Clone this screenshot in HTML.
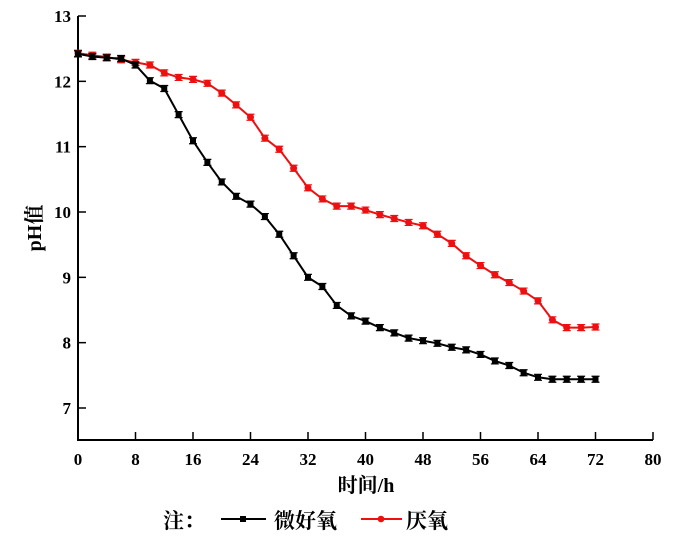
<!DOCTYPE html>
<html><head><meta charset="utf-8"><style>
body{margin:0;background:#fff;width:700px;height:538px;overflow:hidden}
svg text{font-family:"Liberation Serif","Noto Serif CJK SC",serif;font-weight:bold;fill:#000}
</style></head><body>
<svg id="chart" width="700" height="538"></svg>
<script>
const hours=[0,2,4,6,8,10,12,14,16,18,20,22,24,26,28,30,32,34,36,38,40,42,44,46,48,50,52,54,56,58,60,62,64,66,68,70,72];
const microAerobic=[12.42,12.38,12.36,12.35,12.25,12.01,11.89,11.49,11.09,10.76,10.46,10.24,10.12,9.93,9.66,9.33,9.0,8.86,8.57,8.41,8.33,8.23,8.15,8.07,8.03,7.99,7.93,7.89,7.82,7.72,7.65,7.54,7.47,7.44,7.44,7.44,7.44];
const anaerobic=[12.43,12.40,12.37,12.33,12.29,12.25,12.13,12.06,12.03,11.97,11.82,11.64,11.45,11.13,10.96,10.67,10.37,10.2,10.09,10.09,10.03,9.96,9.9,9.84,9.79,9.66,9.52,9.33,9.18,9.04,8.92,8.79,8.64,8.35,8.23,8.23,8.24];
const xTicks=[0,8,16,24,32,40,48,56,64,72,80];
const yTicks=[7,8,9,10,11,12,13];
const NS='http://www.w3.org/2000/svg';
const svg=document.getElementById('chart');
const X=v=>78+v*(653-78)/80;
const Y=v=>408-(v-7)*(408-16)/6;
function mk(t,a,p){const e=document.createElementNS(NS,t);for(const k in a)e.setAttribute(k,a[k]);(p||svg).appendChild(e);return e;}
const ax=mk('g',{});


mk('path',{d:`M78,16 L78,440 L653,440`,fill:'none',stroke:'#000','stroke-width':2},ax);
xTicks.forEach(t=>{
  mk('line',{x1:X(t),x2:X(t),y1:440,y2:432,stroke:'#000','stroke-width':1.5},ax);
  const tx=mk('text',{x:X(t),y:465,'text-anchor':'middle','font-size':17},ax);tx.textContent=t;
  
  
});
yTicks.forEach(t=>{
  mk('line',{x1:78,x2:86,y1:Y(t),y2:Y(t),stroke:'#000','stroke-width':1.5},ax);
  const tx=mk('text',{x:71,y:Y(t)+6,'text-anchor':'end','font-size':17},ax);tx.textContent=t;
  
  
});
const xt=mk('text',{x:366,y:492,'text-anchor':'middle','font-size':20});xt.textContent='时间/h';


const yt=mk('text',{x:0,y:0,'text-anchor':'middle','font-size':20,transform:'translate(41,228) rotate(-90)'});yt.textContent='pH值';


function series(vals,color,name,shape){
  const g=mk('g',{});
  
  
  mk('polyline',{points:hours.map((h,i)=>X(h)+','+Y(vals[i])).join(' '),fill:'none',stroke:color,'stroke-width':2},g);
  hours.forEach((h,i)=>{
    const cx=X(h),cy=Y(vals[i]);
    mk('path',{d:`M${cx-4},${cy-3}h8M${cx-4},${cy+3}h8M${cx},${cy-3}v6`,stroke:color,'stroke-width':1.2},g);
    const m=shape==='sq'?mk('rect',{x:cx-3,y:cy-3,width:6,height:6,fill:color},g):mk('circle',{cx,cy,r:3.5,fill:color},g);
    
    
  });
}
series(anaerobic,'#ee1010','anaerobic-series','c');
series(microAerobic,'#000','micro-aerobic-series','sq');
const lg=mk('g',{});


let t=mk('text',{x:163,y:528,'font-size':21},lg);t.textContent='注：';
mk('line',{x1:221,x2:266,y1:519,y2:519,stroke:'#000','stroke-width':2},lg);
mk('rect',{x:240,y:516,width:6,height:6,fill:'#000'},lg);
t=mk('text',{x:274,y:528,'font-size':21},lg);t.textContent='微好氧';


mk('line',{x1:361,x2:402,y1:519,y2:519,stroke:'#ee1010','stroke-width':2},lg);
mk('circle',{cx:381,cy:519,r:3.3,fill:'#ee1010'},lg);
t=mk('text',{x:406,y:528,'font-size':21},lg);t.textContent='厌氧';


</script>
</body></html>
